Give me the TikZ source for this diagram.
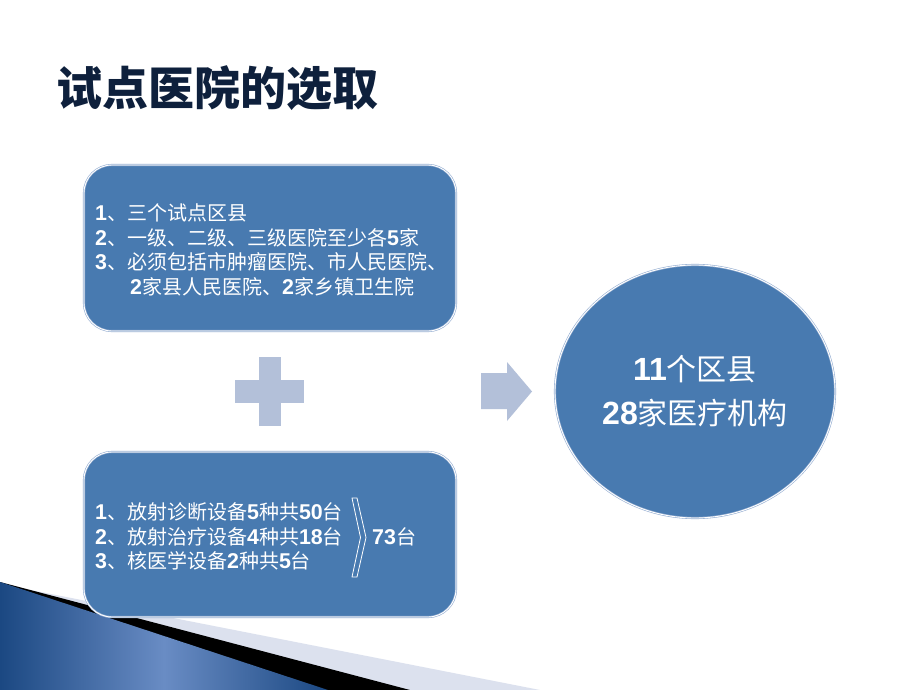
\documentclass[tikz,border=0pt]{standalone}
\usepackage{fontspec}
\setmainfont{Noto Sans CJK SC}
\newfontfamily\arialf{Liberation Sans}[Scale=1.07]
\newcommand\Dg[1]{{\arialf\bfseries #1}}
\definecolor{boxblue}{RGB}{72,122,176}
\definecolor{boxedge}{RGB}{150,175,210}
\definecolor{symblue}{RGB}{179,192,217}
\definecolor{titlenavy}{RGB}{14,32,60}
\definecolor{bandlight}{RGB}{220,225,238}
\definecolor{decodark}{RGB}{27,72,130}
\definecolor{decolight}{RGB}{105,140,196}
\tikzset{
  panel/.style={fill=boxblue, draw=boxedge, double=white, double distance=0.9pt, line width=0.6pt, rounded corners=28pt},
  txt/.style={anchor=west, inner sep=0pt, text=white, font=\fontsize{20}{20}\selectfont},
  bigtxt/.style={anchor=center, inner sep=0pt, text=white, font=\fontsize{30}{30}\selectfont},
  sym/.style={fill=symblue, draw=none}
}
\begin{document}
\begin{tikzpicture}[x=1pt,y=-1pt]
\useasboundingbox (0,0) rectangle (920,690);
\fill[white] (0,0) rectangle (920,690);
% bottom-left decoration
\fill[bandlight] (0,584) -- (540,690) -- (0,690) -- cycle;
\fill[black] (0,582) -- (410,690) -- (0,690) -- cycle;
\shade[left color=decodark, right color=decodark, middle color=decolight] (0,582) -- (328,690) -- (0,690) -- cycle;
% title
\node[anchor=west, inner sep=0pt, text=titlenavy, font=\fontsize{46}{46}\selectfont\bfseries] (title) at (56,88) {试点医院的选取};
% boxes
\draw[panel] (84,165) rectangle (456,331);
\coordinate (box1) at (270,248);
\draw[panel] (84,452) rectangle (456,617);
\coordinate (box2) at (270,534);
% box 1 text
\node[txt] (l1) at (95,213) {\Dg{1}、三个试点区县};
\node[txt] (l2) at (95,238) {\Dg{2}、一级、二级、三级医院至少各\Dg{5}家};
\node[txt] (l3) at (95,262) {\Dg{3}、必须包括市肿瘤医院、市人民医院、};
\node[txt] (l4) at (130,287) {\Dg{2}家县人民医院、\Dg{2}家乡镇卫生院};
% box 2 text
\node[txt] (m1) at (95,512) {\Dg{1}、放射诊断设备\Dg{5}种共\Dg{50}台};
\node[txt] (m2) at (95,537) {\Dg{2}、放射治疗设备\Dg{4}种共\Dg{18}台};
\node[txt] (m3) at (95,561) {\Dg{3}、核医学设备\Dg{2}种共\Dg{5}台};
\draw[white, line width=0.8pt, line join=miter] (352,498) -- (357,498) -- (366,537.5) -- (357,577) -- (352,577) -- (360.5,537.5) -- cycle;
\node[txt] (total) at (372,537) {\Dg{73}台};
% plus sign
\fill[sym] (259,357) rectangle (281,426);
\fill[sym] (235,380) rectangle (304,403);
\coordinate (plus) at (270,391);
% arrow
\fill[sym] (481,373) -- (507,373) -- (507,362) -- (532,391.5) -- (507,421) -- (507,409) -- (481,409) -- cycle;
% ellipse
\draw[fill=boxblue, draw=boxedge, double=white, double distance=0.9pt, line width=0.6pt] (695,391.5) ellipse [x radius=140, y radius=126.5];
\node[bigtxt] (e1) at (695,369) {\Dg{11}个区县};
\node[bigtxt] (e2) at (695,413) {\Dg{28}家医疗机构};
\end{tikzpicture}
\end{document}
